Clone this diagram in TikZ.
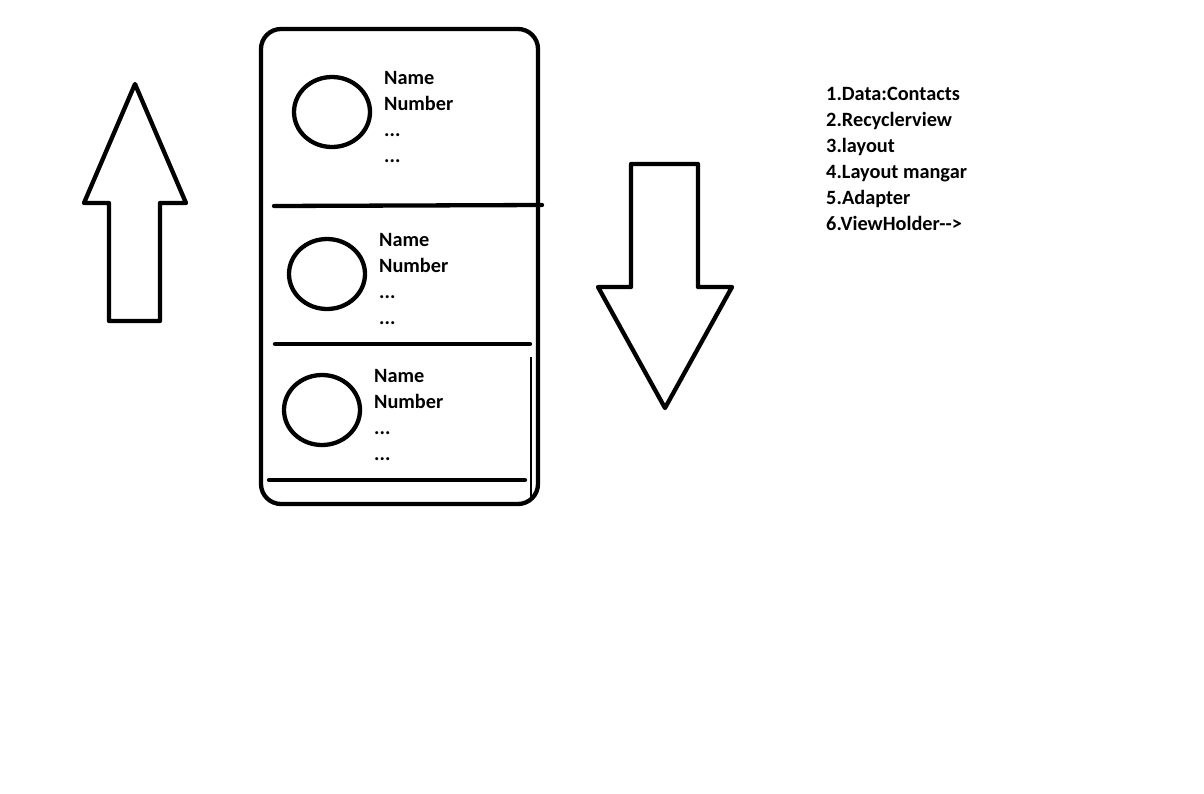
\documentclass[tikz,border=0pt]{standalone}
\usepackage{fontspec}
\setmainfont{Carlito}
\usetikzlibrary{shapes.geometric}
\tikzset{
  ln/.style={line width=4.3pt, line cap=round, line join=miter},
  thin ln/.style={line width=2pt},
  avatar/.style={draw, ellipse, line width=4.3pt, minimum width=76pt, minimum height=70pt, inner sep=0pt},
  lbl/.style={anchor=base west, inner sep=0pt, font=\bfseries\fontsize{20.3}{24}\selectfont}
}
\begin{document}
\begin{tikzpicture}[x=1pt,y=-1pt]
\useasboundingbox[fill=white] (0,0) rectangle (1204,793);
% up arrow
\draw[ln, line join=round] (135,84) -- (186,203) -- (160,203) -- (160,321) -- (109,321) -- (109,203) -- (84,203) -- cycle;
% down arrow
\draw[ln, line join=round] (631,164) -- (698,164) -- (698,287) -- (732,287) -- (665,408) -- (598,287) -- (631,287) -- cycle;
% phone frame
\node[draw, line width=4.3pt, rounded corners=20pt, minimum width=277pt, minimum height=475pt, inner sep=0pt] (frame) at (399.5,266.5) {};
% dividers
\coordinate (d1a) at (274,206); \coordinate (d1b) at (542,205);
\coordinate (d2a) at (275,344); \coordinate (d2b) at (530,344);
\coordinate (d3a) at (269,480); \coordinate (d3b) at (525,480);
\coordinate (va) at (531,357); \coordinate (vb) at (531,497);
\draw[ln] (d1a) -- (d1b);
\draw[ln] (d2a) -- (d2b);
\draw[ln] (d3a) -- (d3b);
\draw[thin ln] (va) -- (vb);
% avatars
\node[avatar] (c1) at (332,112) {};
\node[avatar] (c2) at (327,274) {};
\node[avatar] (c3) at (322,410) {};
% row texts
\node[lbl] (n1) at (384,84.5) {Name};
\node[lbl] (m1) at (384,110.5) {Number};
\node[lbl] (e1) at (384,136.5) {...};
\node[lbl] (f1) at (384,162.5) {...};
\node[lbl] (n2) at (379,246.5) {Name};
\node[lbl] (m2) at (379,272.5) {Number};
\node[lbl] (e2) at (379,298.5) {...};
\node[lbl] (f2) at (379,324.5) {...};
\node[lbl] (n3) at (374,382.5) {Name};
\node[lbl] (m3) at (374,408.5) {Number};
\node[lbl] (e3) at (374,434.5) {...};
\node[lbl] (f3) at (374,460.5) {...};
% list
\node[lbl] (l1) at (826,100.7) {1.Data:Contacts};
\node[lbl] (l2) at (826,126.7) {2.Recyclerview};
\node[lbl] (l3) at (826,152.7) {3.layout};
\node[lbl] (l4) at (826,178.7) {4.Layout mangar};
\node[lbl] (l5) at (826,204.7) {5.Adapter};
\node[lbl] (l6) at (826,230.7) {6.ViewHolder-{}->};
\end{tikzpicture}
\end{document}
